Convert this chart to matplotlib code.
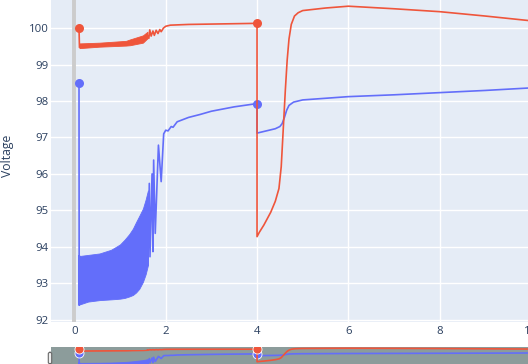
import matplotlib
matplotlib.use("Agg")
import matplotlib.pyplot as plt
from matplotlib.patches import FancyBboxPatch

plt.rcParams['font.family'] = ['Open Sans', 'DejaVu Sans']

# --- data ---
# blue trace
blue_marker_x = [0.1, 4.0]
blue_marker_y = [98.49, 97.92]
blue_start_x = [0.1, 0.104, 0.108]
blue_start_y = [98.49, 92.40, 93.75]
blue_band_x = [0.11, 0.3, 0.55, 0.8, 0.91, 1.0, 1.1, 1.2, 1.28, 1.35, 1.42, 1.5, 1.56, 1.61]
blue_band_top = [93.75, 93.78, 93.82, 93.92, 94.0, 94.07, 94.2, 94.35, 94.5, 94.68, 94.85, 95.05, 95.3, 95.55]
blue_band_bot = [92.42, 92.5, 92.54, 92.56, 92.57, 92.58, 92.6, 92.64, 92.68, 92.75, 92.85, 93.04, 93.25, 93.5]
blue_tail_x = [1.61, 1.64, 1.655, 1.70, 1.72, 1.735, 1.77, 1.84, 1.90, 1.955, 2.0, 2.05, 2.12,
               2.16, 2.25, 2.5, 2.75, 3.0, 3.5, 4.0, 4.0, 4.2, 4.4, 4.5, 4.55, 4.6, 4.65, 4.7, 4.8,
               5.0, 6.0, 7.0, 8.0, 9.0, 10.0, 10.5]
blue_tail_y = [93.5, 95.74, 93.73, 96.0, 93.87, 96.38, 94.37, 96.79, 95.79, 97.1, 97.2, 97.18, 97.3,
               97.28, 97.43, 97.55, 97.63, 97.72, 97.84, 97.93, 97.12, 97.18, 97.24, 97.3, 97.38, 97.55, 97.75,
               97.88, 97.97, 98.03, 98.12, 98.17, 98.23, 98.29, 98.36, 98.39]

# orange trace
orange_marker_x = [0.1, 4.0]
orange_marker_y = [100.0, 100.14]
orange_start_x = [0.1, 0.11]
orange_start_y = [100.0, 99.48]
orange_band_x = [0.11, 0.55, 1.13, 1.22, 1.5, 1.6]
orange_band_top = [99.58, 99.6, 99.65, 99.69, 99.8, 99.9]
orange_band_bot = [99.45, 99.49, 99.52, 99.53, 99.6, 99.72]
orange_tail_x = [1.6, 1.63, 1.65, 1.68, 1.72, 1.75, 1.79, 1.83, 1.87, 1.9, 1.95, 2.0, 2.1, 2.5,
                 3.0, 3.5, 4.0, 4.0, 4.05, 4.15, 4.3, 4.4, 4.48, 4.53, 4.56, 4.59, 4.62, 4.66,
                 4.7, 4.75, 4.82, 4.9, 5.0, 5.5, 6.0, 7.0, 8.0, 9.0, 10.0, 10.5]
orange_tail_y = [99.8, 99.72, 99.95, 99.78, 99.92, 99.8, 99.94, 99.85, 99.96, 99.9, 100.0, 100.05, 100.08, 100.1,
                 100.11, 100.12, 100.13, 94.28, 94.4, 94.6, 94.95, 95.25, 95.6, 96.2, 96.9, 97.6, 98.3, 99.12,
                 99.7, 100.1, 100.33, 100.42, 100.48, 100.55, 100.6, 100.53, 100.45, 100.33, 100.2, 100.14]

y_ticks = [92, 93, 94, 95, 96, 97, 98, 99, 100]
x_ticks = [0, 2, 4, 6, 8, 10]

BLUE = '#636EFA'
ORANGE = '#EF553B'
BG = '#E5ECF6'
TXT = '#2a3f5f'

W, H = 528, 364
fig = plt.figure(figsize=(W / 100, H / 100), dpi=100)


def draw_traces(ax, ms, mec):
    ax.plot(blue_start_x, blue_start_y, color=BLUE, lw=1.2)
    ax.fill_between(blue_band_x, blue_band_bot, blue_band_top, color=BLUE, lw=0.6)
    ax.plot(blue_tail_x, blue_tail_y, color=BLUE, lw=1.2)
    ax.plot(blue_marker_x, blue_marker_y, 'o', color=BLUE, ms=ms, mec=mec, mew=0.6)
    ax.plot(orange_start_x, orange_start_y, color=ORANGE, lw=1.2)
    ax.fill_between(orange_band_x, orange_band_bot, orange_band_top, color=ORANGE, lw=0.6)
    ax.plot(orange_tail_x, orange_tail_y, color=ORANGE, lw=1.2)
    ax.plot(orange_marker_x, orange_marker_y, 'o', color=ORANGE, ms=ms, mec=mec, mew=0.6)


# main plot area (pixel layout converted to figure fractions)
x0, x1 = -0.52, 10.5
px_per_x = 45.65
left_px = 50.7
width_px = (x1 - x0) * px_per_x
ax = fig.add_axes([left_px / W, 42 / H, width_px / W, 322 / H])
ax.set_facecolor(BG)
ax.set_xlim(x0, x1)
ax.set_ylim(91.94, 100.77)
ax.set_yticks(y_ticks)
ax.set_xticks(x_ticks)
ax.grid(color='white', lw=1.0)
ax.set_axisbelow(True)
for s in ax.spines.values():
    s.set_visible(False)
ax.tick_params(length=0, labelsize=8.2, labelcolor=TXT)
ax.tick_params(axis='y', pad=1.5)
ax.tick_params(axis='x', pad=3)
ax.axvline(0, color='#cccccc', lw=2.8, zorder=1.5)
draw_traces(ax, 6.5, 'none')

fig.text(8 / W, 1 - 156 / H, 'Voltage', rotation=90, ha='center', va='center',
         fontsize=8.8, color=TXT)

# range slider strip at the bottom (cut off by the figure edge)
sl = fig.add_axes([left_px / W, 0, width_px / W, 17.3 / H])
sl.set_facecolor('#8c9c9b')
sl.set_xlim(x0, x1)
sl.set_ylim(93.23, 101.3)
sl.set_xticks([])
sl.set_yticks([])
for s in sl.spines.values():
    s.set_visible(False)
draw_traces(sl, 6.5, 'white')

handle = FancyBboxPatch((48.3 / W, 0.2 / H), 3.4 / W, 11.5 / H,
                        boxstyle='round,pad=0,rounding_size=0.004',
                        transform=fig.transFigure, facecolor='#eeeeee',
                        edgecolor='#666666', lw=0.8)
fig.patches.append(handle)

fig.savefig('out.png', dpi=100)
